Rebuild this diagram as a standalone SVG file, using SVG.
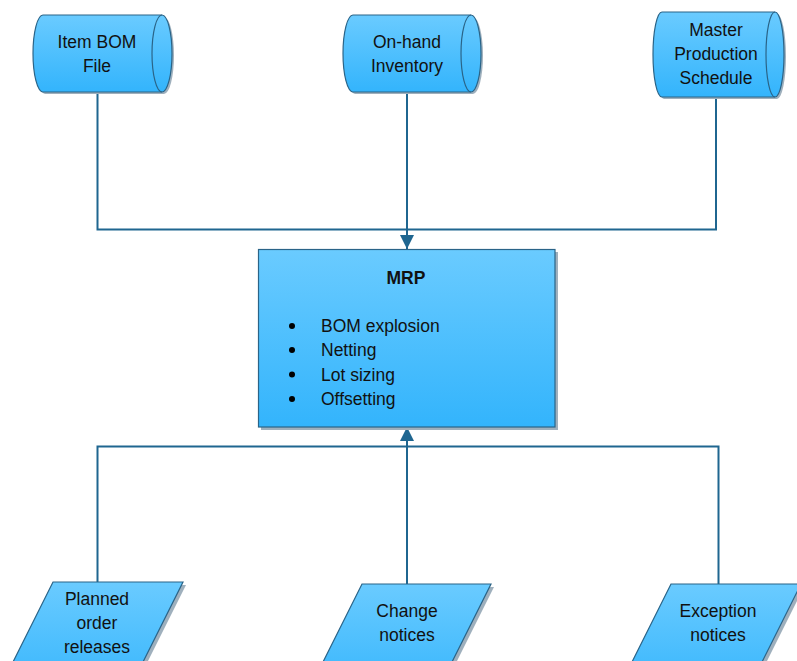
<svg xmlns="http://www.w3.org/2000/svg" width="797" height="661" viewBox="0 0 797 661">
<defs>
<linearGradient id="g" x1="0" y1="0" x2="0" y2="1">
<stop offset="0" stop-color="#6acbff"/>
<stop offset="1" stop-color="#33b4fc"/>
</linearGradient>
<marker id="arr" markerUnits="userSpaceOnUse" markerWidth="14" markerHeight="14" viewBox="0 0 12 12" refX="12" refY="6" orient="auto">
<path d="M0,0 L12,6 L0,12 Z" fill="#1f6690"/>
</marker>
</defs>
<style>
.shape{fill:url(#g);stroke:#2a6488;stroke-width:1.2}
.shadow{fill:#9fb0bd;stroke:none}
.inner{fill:none;stroke:#2a6488;stroke-width:1.2}
.conn{fill:none;stroke:#1f6690;stroke-width:2}
text{font-family:"Liberation Sans",Arial,sans-serif;font-size:17.5px;fill:#111;text-anchor:middle}
.b{font-weight:bold}
.l{text-anchor:start}
</style>
<rect width="797" height="661" fill="#fff"/>
<g id="connectors">
<path class="conn" d="M97.5,92 V229.5 H716 V97"/>
<path class="conn" d="M407,92 V249" marker-end="url(#arr)"/>
<path class="conn" d="M97.5,582 V446.5 H718.5 V584"/>
<path class="conn" d="M407,584 V427" marker-end="url(#arr)"/>
</g>
<g id="item-bom">
<path class="shadow" d="M45,17 L164,17 A10,38.5 0 0 1 164,94 L45,94 A10,38.5 0 0 1 45,17 Z"/>
<path class="shape" d="M43,15 L162,15 A10,38.5 0 0 1 162,92 L43,92 A10,38.5 0 0 1 43,15 Z"/>
<path class="inner" d="M162,15 A10,38.5 0 0 0 162,92"/>
<text x="97" y="48">Item BOM</text>
<text x="97" y="72">File</text>
</g>
<g id="on-hand">
<path class="shadow" d="M355,17 L473,17 A10,38.5 0 0 1 473,94 L355,94 A10,38.5 0 0 1 355,17 Z"/>
<path class="shape" d="M353,15 L471,15 A10,38.5 0 0 1 471,92 L353,92 A10,38.5 0 0 1 353,15 Z"/>
<path class="inner" d="M471,15 A10,38.5 0 0 0 471,92"/>
<text x="407" y="48">On-hand</text>
<text x="407" y="72">Inventory</text>
</g>
<g id="master">
<path class="shadow" d="M664,14 L777,14 A9,42.5 0 0 1 777,99 L664,99 A9,42.5 0 0 1 664,14 Z"/>
<path class="shape" d="M662,12 L775,12 A9,42.5 0 0 1 775,97 L662,97 A9,42.5 0 0 1 662,12 Z"/>
<path class="inner" d="M775,12 A9,42.5 0 0 0 775,97"/>
<text x="716" y="36">Master</text>
<text x="716" y="60">Production</text>
<text x="716" y="84">Schedule</text>
</g>
<g id="mrp">
<rect class="shadow" x="261" y="252" width="297" height="178"/>
<rect class="shape" x="258.5" y="249.5" width="296.5" height="177.5"/>
<text class="b" x="406" y="284">MRP</text>
<circle cx="292" cy="326" r="3" fill="#000"/>
<circle cx="292" cy="350" r="3" fill="#000"/>
<circle cx="292" cy="374.5" r="3" fill="#000"/>
<circle cx="292" cy="399" r="3" fill="#000"/>
<text class="l" x="321" y="332">BOM explosion</text>
<text class="l" x="321" y="356">Netting</text>
<text class="l" x="321" y="380.5">Lot sizing</text>
<text class="l" x="321" y="405">Offsetting</text>
</g>
<g id="planned">
<path class="shadow" d="M56,585 L186,585 L127,703 L-3,703 Z"/>
<path class="shape" d="M53,582 L183,582 L124,700 L-6,700 Z"/>
<text x="97" y="605">Planned</text>
<text x="97" y="629">order</text>
<text x="97" y="653">releases</text>
</g>
<g id="change">
<path class="shadow" d="M365,587 L494,587 L436,703 L307,703 Z"/>
<path class="shape" d="M362,584 L491,584 L433,700 L304,700 Z"/>
<text x="407" y="617">Change</text>
<text x="407" y="641">notices</text>
</g>
<g id="exception">
<path class="shadow" d="M674,587 L804,587 L746,703 L616,703 Z"/>
<path class="shape" d="M671,584 L801,584 L743,700 L613,700 Z"/>
<text x="718" y="617">Exception</text>
<text x="718" y="641">notices</text>
</g>
</svg>
